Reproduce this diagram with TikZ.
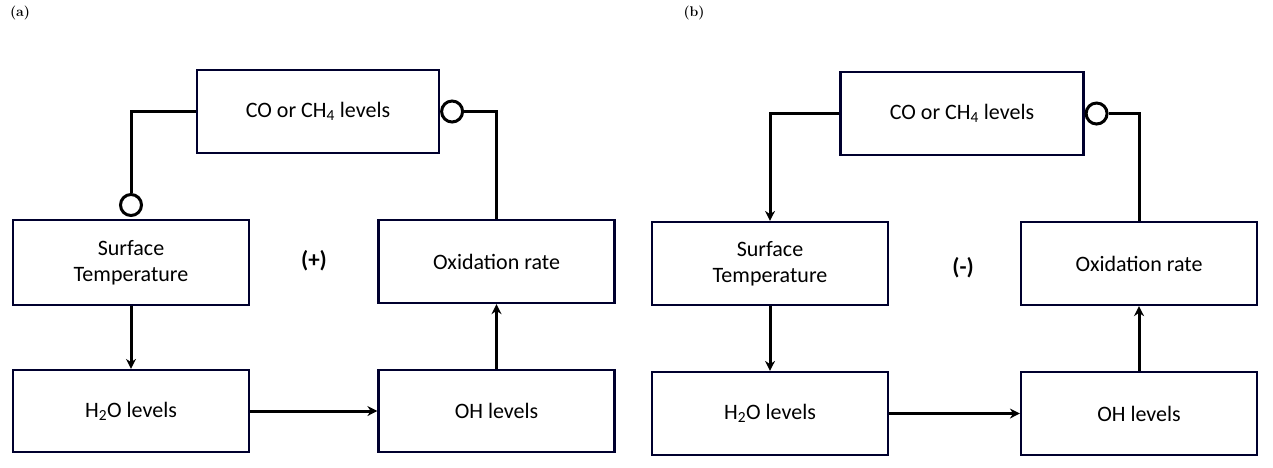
\documentclass[tikz,border=0pt]{standalone}
\usepackage{fontspec}
\setsansfont{Carlito}
\usetikzlibrary{arrows.meta}
\begin{document}
\begin{tikzpicture}[x=1pt,y=-1pt,
 box/.style={draw=black!70!blue!60!black,line width=2.2pt,minimum width=#1,inner sep=0pt,font=\sffamily\fontsize{22}{26}\selectfont,align=center},
 box/.default=236pt,
 ln/.style={line width=3pt},
 ar/.style={ln,-{Stealth[length=10pt,width=10pt]}},
 circ/.style={circle,draw,line width=3pt,minimum size=21pt,inner sep=0pt},
 lab/.style={font=\bfseries\fontsize{14}{16}\selectfont}]
\useasboundingbox (0,0) rectangle (1273,467);
% (a)
\node[lab] (la) at (20,13) {(a)};
\node[box=242pt,minimum height=83pt] (co1) at (318,111.5) {CO or CH\textsubscript{4} levels};
\node[box,minimum height=85pt] (st1) at (131,262.5) {Surface\\Temperature};
\node[box,minimum height=83pt] (ox1) at (496.5,261.5) {Oxidation rate};
\node[box,minimum height=82pt] (h1) at (131,411) {H\textsubscript{2}O levels};
\node[box,minimum height=82pt] (oh1) at (496.5,411) {OH levels};
\node[font=\sffamily\bfseries\fontsize{23}{26}\selectfont] (p1) at (314,261) {(+)};
\node[circ] (c1) at (131,205) {};
\node[circ,anchor=west] (c2) at (co1.east) {};
\draw[ln] (co1.west) -| (c1.north);
\draw[ln] (c2.east) -| (ox1.north);
\draw[ar] (st1.south) -- (h1.north);
\draw[ar] (h1.east) -- (oh1.west);
\draw[ar] (oh1.north) -- (ox1.south);
% (b)
\node[lab] (lb) at (694,13) {(b)};
\node[box=243pt,minimum height=83pt] (co2) at (962,113.5) {CO or CH\textsubscript{4} levels};
\node[box,minimum height=83pt] (st2) at (770,263.5) {Surface\\Temperature};
\node[box,minimum height=83pt] (ox2) at (1139,263.5) {Oxidation rate};
\node[box,minimum height=83pt] (h2) at (770,413.5) {H\textsubscript{2}O levels};
\node[box,minimum height=83pt] (oh2) at (1139,413.5) {OH levels};
\node[font=\sffamily\bfseries\fontsize{23}{26}\selectfont] (p2) at (963,268) {(-)};
\node[circ,anchor=west] (c3) at (co2.east) {};
\draw[ar] (co2.west) -| (st2.north);
\draw[ln] (c3.east) -| (ox2.north);
\draw[ar] (st2.south) -- (h2.north);
\draw[ar] (h2.east) -- (oh2.west);
\draw[ar] (oh2.north) -- (ox2.south);
\end{tikzpicture}
\end{document}
